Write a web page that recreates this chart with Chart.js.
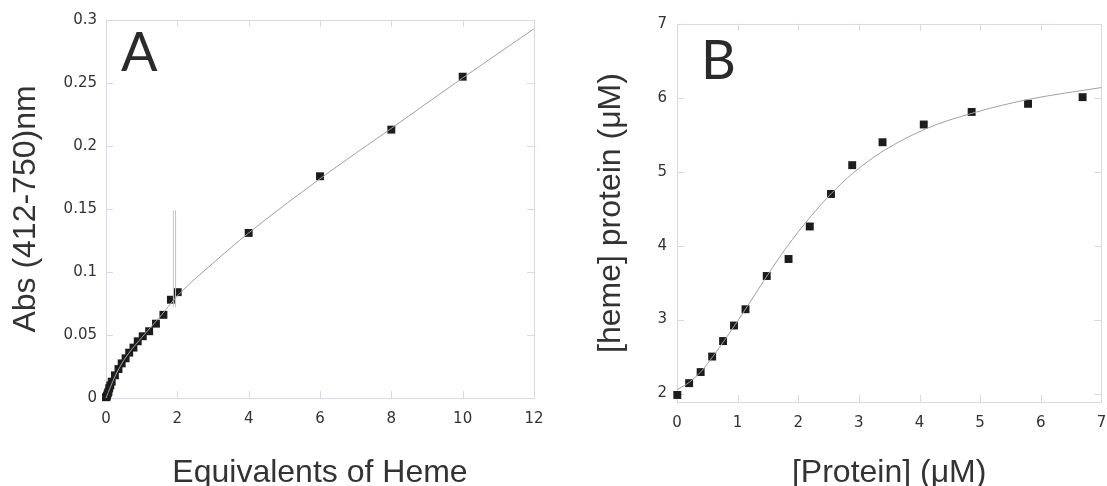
<!DOCTYPE html>
<html lang="en">
<head>
  <meta charset="UTF-8">
  <title>Heme titration</title>
  <script src="https://cdn.jsdelivr.net/npm/chart.js"></script>
  <style>
    html, body {
      margin: 0;
      padding: 0;
      background: #fff;
      overflow: hidden;
    }
    .panel {
      position: absolute;
      top: 0;
      height: 486px;
    }
    #panelA { left: 0; width: 560px; }
    #panelB { left: 560px; width: 547px; }
    .letter {
      position: absolute;
      font-family: Lato, sans-serif;
      font-size: 54px;
      line-height: 54px;
      color: #2a2a2a;
    }
  </style>
</head>
<body>

<div class="panel" id="panelA"><canvas id="chartA"></canvas></div>
<div class="panel" id="panelB"><canvas id="chartB"></canvas></div>
<div class="letter" style="left:121px; top:24px;">A</div>
<div class="letter" style="left:701px; top:32px;">B</div>

<script>
  // Panel A: absorbance vs equivalents of heme
  const hemeEquiv = [0, 0.02, 0.03, 0.05, 0.07, 0.09, 0.12, 0.16, 0.25, 0.35, 0.44, 0.55, 0.65, 0.77, 0.89, 1.03, 1.21, 1.40, 1.61, 1.82, 2.01, 4, 6, 8, 10];
  const absValues = [0.0006, 0.001, 0.002, 0.0037, 0.005, 0.0077, 0.010, 0.013, 0.018, 0.023, 0.0275, 0.0315, 0.036, 0.040, 0.045, 0.049, 0.053, 0.059, 0.066, 0.078, 0.084, 0.131, 0.176, 0.213, 0.255];
  const fitAX = [0, 0.25, 0.5, 1, 1.5, 2, 3, 4, 6, 8, 10, 12];
  const fitAY = [0, 0.017, 0.030, 0.048, 0.064, 0.081, 0.107, 0.131, 0.174, 0.214, 0.254, 0.293];
  // the two thin vertical strokes near x = 1.9
  const strokeX = [1.89, 1.95];
  const strokeY = [0.072, 0.149];
  const ticksAX = [0, 2, 4, 6, 8, 10, 12];
  const ticksAY = [0, 0.05, 0.1, 0.15, 0.2, 0.25, 0.3];

  // Panel B: bound heme vs protein
  const proteinConc = [0.005, 0.20, 0.39, 0.58, 0.76, 0.94, 1.13, 1.48, 1.84, 2.19, 2.54, 2.89, 3.39, 4.07, 4.86, 5.79, 6.69];
  const hemeBound = [1.98, 2.14, 2.29, 2.50, 2.71, 2.92, 3.14, 3.59, 3.82, 4.26, 4.70, 5.09, 5.40, 5.64, 5.81, 5.92, 6.01];
  const fitBX = [0, 0.2, 0.4, 0.6, 0.8, 1.0, 1.2, 1.5, 1.8, 2.2, 2.55, 2.9, 3.4, 4.1, 4.9, 5.8, 7];
  const fitBY = [2.05, 2.15, 2.30, 2.51, 2.74, 2.98, 3.23, 3.61, 3.97, 4.39, 4.71, 4.98, 5.28, 5.58, 5.80, 5.98, 6.14];
  const ticksBX = [0, 1, 2, 3, 4, 5, 6, 7];
  const ticksBY = [2, 3, 4, 5, 6, 7];

  const pts = (xs, ys) => xs.map((x, i) => ({x: x, y: ys[i]}));

  const frameColor = '#d8d8ec';
  const tickFont = {family: 'DejaVu Sans', size: 15};
  const titleFont = {family: 'Liberation Sans', size: 32, lineHeight: 0.8};

  // box round the plot with short inward tick marks on all four sides
  const framePlugin = {
    id: 'frame',
    beforeDatasetsDraw(chart) {
      const {ctx, chartArea: a, scales} = chart;
      ctx.save();
      ctx.strokeStyle = frameColor;
      ctx.lineWidth = 1;
      ctx.strokeRect(Math.round(a.left) + 0.5, Math.round(a.top) + 0.5,
                     Math.round(a.right - a.left), Math.round(a.bottom - a.top));
      ctx.beginPath();
      scales.x.ticks.forEach(t => {
        const px = Math.round(scales.x.getPixelForValue(t.value)) + 0.5;
        ctx.moveTo(px, a.bottom); ctx.lineTo(px, a.bottom - 7);
        ctx.moveTo(px, a.top); ctx.lineTo(px, a.top + 7);
      });
      scales.y.ticks.forEach(t => {
        const py = Math.round(scales.y.getPixelForValue(t.value)) + 0.5;
        ctx.moveTo(a.left, py); ctx.lineTo(a.left + 7, py);
        ctx.moveTo(a.right, py); ctx.lineTo(a.right - 7, py);
      });
      ctx.stroke();
      ctx.restore();
    }
  };

  function makeChart(id, cfg) {
    const ctx = document.getElementById(id).getContext('2d');
    return new Chart(ctx, {
      type: 'scatter',
      data: {datasets: cfg.datasets},
      options: {
        responsive: true,
        maintainAspectRatio: false,
        animation: false,
        layout: {padding: cfg.padding},
        plugins: {legend: {display: false}, tooltip: {enabled: false}},
        scales: {
          x: {
            type: 'linear',
            min: cfg.xMin, max: cfg.xMax,
            afterBuildTicks: s => { s.ticks = cfg.xTicks.map(v => ({value: v})); },
            // fixed height; let the last label hang past the plot edge
            afterFit: s => { s.height = cfg.xHeight; s.paddingRight = 0; },
            grid: {display: false, drawTicks: false},
            border: {display: false},
            ticks: {color: '#333', font: tickFont, padding: 12, maxRotation: 0, callback: v => String(v)},
            title: {display: true, text: cfg.xTitle, color: '#333', font: titleFont, padding: {top: 0, bottom: 0}}
          },
          y: {
            type: 'linear',
            min: cfg.yMin, max: cfg.yMax,
            afterBuildTicks: s => { s.ticks = cfg.yTicks.map(v => ({value: v})); },
            afterFit: s => { s.width = cfg.yWidth; },
            grid: {display: false, drawTicks: false},
            border: {display: false},
            ticks: {color: '#333', font: tickFont, padding: cfg.yPad, callback: v => String(v)},
            title: {display: true, text: cfg.yTitle, color: '#333', font: titleFont, padding: {top: cfg.yTitlePad, bottom: 0}}
          }
        }
      },
      plugins: [framePlugin]
    });
  }

  const pointStyle = {
    showLine: false,
    pointStyle: 'rect',
    pointRadius: 5.6,
    pointBorderWidth: 0,
    pointBackgroundColor: '#1c1c1c',
    clip: false
  };
  const fitStyle = {
    showLine: true,
    pointRadius: 0,
    borderColor: '#a0a0a0',
    borderWidth: 1,
    cubicInterpolationMode: 'monotone',
    clip: false
  };

  makeChart('chartA', {
    datasets: [
      Object.assign({data: pts(fitAX, fitAY)}, fitStyle),
      {data: pts([strokeX[0], strokeX[0]], strokeY), showLine: true, pointRadius: 0, borderColor: '#c4c4c4', borderWidth: 1},
      {data: pts([strokeX[1], strokeX[1]], strokeY), showLine: true, pointRadius: 0, borderColor: '#c4c4c4', borderWidth: 1},
      Object.assign({data: pts(hemeEquiv, absValues)}, pointStyle)
    ],
    padding: {top: 20, right: 26, left: 0, bottom: 0},
    xMin: 0, xMax: 12, yMin: 0, yMax: 0.3,
    xTicks: ticksAX, yTicks: ticksAY,
    xHeight: 88, yWidth: 106, yPad: 9, yTitlePad: 13,
    xTitle: 'Equivalents of Heme',
    yTitle: 'Abs (412-750)nm'
  });

  makeChart('chartB', {
    datasets: [
      Object.assign({data: pts(fitBX, fitBY)}, fitStyle),
      Object.assign({data: pts(proteinConc, hemeBound)}, pointStyle)
    ],
    padding: {top: 24, right: 4, left: 0, bottom: 0},
    xMin: 0, xMax: 7, yMin: 1.885, yMax: 7,
    xTicks: ticksBX, yTicks: ticksBY,
    xHeight: 84, yWidth: 117, yPad: 10, yTitlePad: 38,
    xTitle: '[Protein] (\u03bcM)',
    yTitle: '[heme] protein (\u03bcM)'
  });
</script>
</body>
</html>
